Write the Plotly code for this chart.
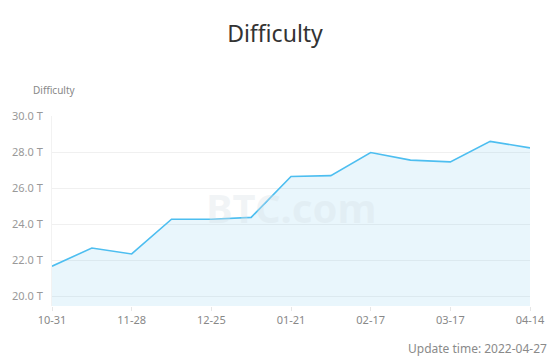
import plotly.graph_objects as go

dates = ["10-31", "11-13", "11-28", "12-10", "12-25", "01-07", "01-21",
         "02-03", "02-17", "03-03", "03-17", "03-31", "04-14"]
difficulty = [21.66, 22.67, 22.34, 24.27, 24.27, 24.37, 26.64,
              26.69, 27.97, 27.55, 27.45, 28.59, 28.23]
y_ticks = [20, 22, 24, 26, 28, 30]
y_tick_text = ["20.0 T", "22.0 T", "24.0 T", "26.0 T", "28.0 T", "30.0 T"]
x_tick_labels = dates[::2]

fig = go.Figure()
fig.add_trace(go.Scatter(
    x=dates, y=difficulty, mode="lines",
    line=dict(color="#4dbef0", width=1.6),
    fill="tozeroy", fillcolor="rgba(120,200,235,0.16)",
    hoverinfo="x+y", showlegend=False,
))

fig.update_layout(
    width=550, height=358,
    margin=dict(l=52, r=20, t=116, b=52, autoexpand=False),
    paper_bgcolor="white", plot_bgcolor="white",
    font=dict(family="Noto Sans, Open Sans, sans-serif", color="#999"),
    title=dict(text="Difficulty", x=0.5, xanchor="center", y=0.905, yanchor="middle",
               font=dict(size=23, color="#333")),
    xaxis=dict(
        type="category", range=[0, len(dates) - 1], automargin=False,
        tickmode="array", tickvals=x_tick_labels, ticktext=x_tick_labels,
        showgrid=False, showline=False, zeroline=False,
        ticks="outside", ticklen=4, tickcolor="#e6e6e6",
        tickfont=dict(size=11, color="#888"),
    ),
    yaxis=dict(
        range=[19.45, 30], tickvals=y_ticks, ticktext=y_tick_text, automargin=False,
        showgrid=True, gridcolor="#f0f0f0", gridwidth=1, zeroline=False,
        showline=True, linecolor="#f2f2f2", linewidth=1, ticks="", ticklabelstandoff=6,
        tickfont=dict(size=11, color="#999"),
    ),
    annotations=[
        dict(text="Difficulty", xref="paper", yref="paper", x=0, y=1.1,
             xanchor="left", yanchor="bottom", showarrow=False, yshift=-2,
             font=dict(size=10, color="#888"), xshift=-21),
        dict(text="<b>BTC.com</b>", xref="paper", yref="paper", x=0.5, y=0.52,
             xanchor="center", yanchor="middle", showarrow=False,
             font=dict(size=40, color="rgba(215,225,230,0.35)")),
        dict(text="Update time: 2022-04-27", xref="paper", yref="paper", x=1, y=-0.226,
             xanchor="right", yanchor="middle", showarrow=False, xshift=19,
             font=dict(size=12, color="#8a8a8a")),
    ],
)

fig.write_html("out.html")
